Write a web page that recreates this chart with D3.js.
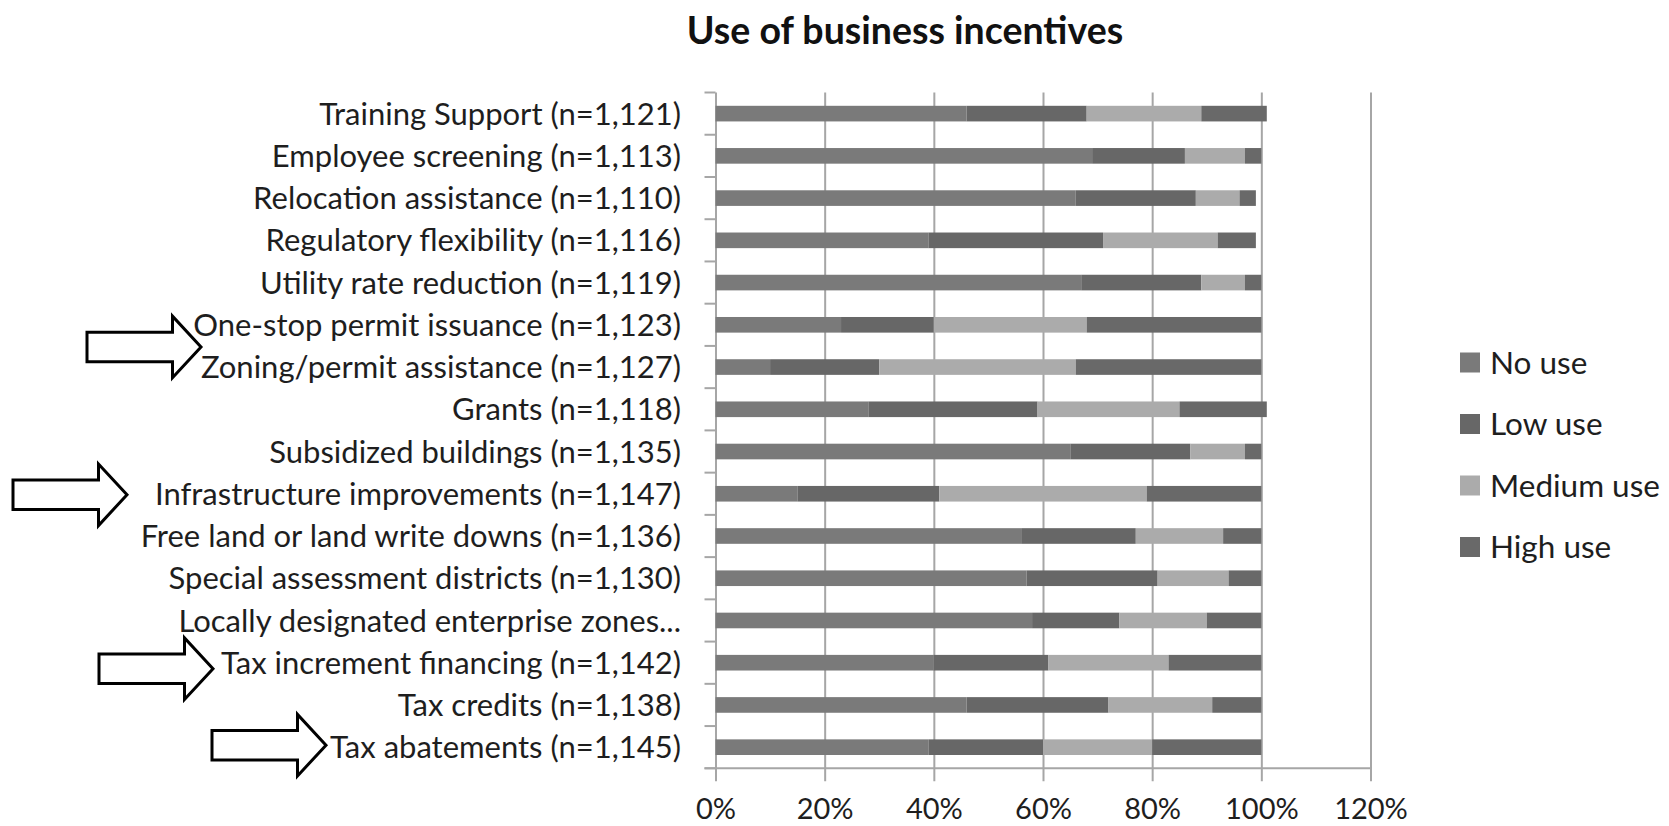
<!DOCTYPE html>
<html>
<head>
<meta charset="utf-8">
<script src="https://cdn.jsdelivr.net/npm/d3@7"></script>
<style>
  html, body { margin: 0; padding: 0; background: #fff; }
  svg { display: block; font-family: Lato, "Open Sans", sans-serif; }
</style>
</head>
<body>
<svg id="chart" width="1669" height="826"></svg>
<script>
// Incentive categories, top to bottom
const categories = [
  "Training Support (n=1,121)",
  "Employee screening (n=1,113)",
  "Relocation assistance (n=1,110)",
  "Regulatory flexibility (n=1,116)",
  "Utility rate reduction (n=1,119)",
  "One-stop permit issuance (n=1,123)",
  "Zoning/permit assistance (n=1,127)",
  "Grants (n=1,118)",
  "Subsidized buildings (n=1,135)",
  "Infrastructure improvements (n=1,147)",
  "Free land or land write downs (n=1,136)",
  "Special assessment districts (n=1,130)",
  "Locally designated enterprise zones...",
  "Tax increment financing (n=1,142)",
  "Tax credits (n=1,138)",
  "Tax abatements (n=1,145)"
];

// Share of respondents (%) per level of use
const noUse     = [46, 69, 66, 39, 67, 23, 10, 28, 65, 15, 56, 57, 58, 40, 46, 39];
const lowUse    = [22, 17, 22, 32, 22, 17, 20, 31, 22, 26, 21, 24, 16, 21, 26, 21];
const mediumUse = [21, 11,  8, 21,  8, 28, 36, 26, 10, 38, 16, 13, 16, 22, 19, 20];
const highUse   = [12,  3,  3,  7,  3, 32, 34, 16,  3, 21,  7,  6, 10, 17,  9, 20];

const seriesNames = ["No use", "Low use", "Medium use", "High use"];
const xTicks = [0, 0.2, 0.4, 0.6, 0.8, 1.0, 1.2];

const title = "Use of business incentives";

// Highlighted incentives (arrow annotations)
const highlights = [
  { rows: ["One-stop permit issuance (n=1,123)", "Zoning/permit assistance (n=1,127)"], tipX: 201, dy: 1 },
  { rows: ["Infrastructure improvements (n=1,147)"], tipX: 127, dy: 1 },
  { rows: ["Tax increment financing (n=1,142)"], tipX: 213, dy: 6 },
  { rows: ["Tax abatements (n=1,145)"], tipX: 326, dy: -2 }
];

const colors = ["#7a7a7a", "#676767", "#ababab", "#696969"];

const svg = d3.select("#chart");

const plot = { left: 715.5, right: 1370.5, top: 92.5, bottom: 768.3 };

const table = categories.map((c, i) => ({
  category: c,
  "No use": noUse[i] / 100,
  "Low use": lowUse[i] / 100,
  "Medium use": mediumUse[i] / 100,
  "High use": highUse[i] / 100
}));

const stacked = d3.stack().keys(seriesNames)(table);

const x = d3.scaleLinear().domain([0, 1.2]).range([plot.left, plot.right]);
const y = d3.scaleBand().domain(categories).range([plot.top, plot.bottom])
  .paddingInner(0.63).paddingOuter(0.315);
const yStep = d3.scaleBand().domain(categories).range([plot.top, plot.bottom]);
const color = d3.scaleOrdinal().domain(seriesNames).range(colors);

const gridColor = "#a6a6a6";
const textColor = "#1e1e1e";

// Vertical gridlines with ticks hanging below the baseline
const xAxis = d3.axisBottom(x).tickValues(xTicks)
  .tickSize(-(plot.bottom - plot.top))
  .tickFormat(d3.format(".0%"));
const gx = svg.append("g").attr("transform", `translate(0,${plot.bottom})`).call(xAxis);
gx.select(".domain").remove();
gx.selectAll(".tick line").attr("stroke", gridColor).attr("stroke-width", 2)
  .attr("y2", -(plot.bottom - plot.top)).attr("y1", 13);
gx.selectAll(".tick text")
  .attr("y", 30).attr("dy", "0.71em")
  .attr("fill", textColor)
  .style("font-size", "29px")
  .style("font-family", "Lato, sans-serif");

// Category axis ticks at band boundaries
const bounds = categories.map(c => yStep(c)).concat([plot.bottom]);
svg.append("g").selectAll("line").data(bounds).join("line")
  .attr("x1", plot.left - 11).attr("x2", plot.left)
  .attr("y1", d => d).attr("y2", d => d)
  .attr("stroke", gridColor).attr("stroke-width", 2);

// Baseline
svg.append("line")
  .attr("x1", plot.left - 11).attr("x2", plot.right + 1)
  .attr("y1", plot.bottom).attr("y2", plot.bottom)
  .attr("stroke", gridColor).attr("stroke-width", 2);

// Stacked bars
svg.append("g").selectAll("g").data(stacked).join("g")
  .attr("fill", d => color(d.key))
  .selectAll("rect").data(d => d).join("rect")
  .attr("x", d => x(d[0]))
  .attr("width", d => x(d[1]) - x(d[0]))
  .attr("y", d => y(d.data.category))
  .attr("height", y.bandwidth());

// Category labels
svg.append("g").selectAll("text").data(categories).join("text")
  .attr("x", 681)
  .attr("y", d => y(d) + y.bandwidth() / 2)
  .attr("dy", "0.36em")
  .attr("text-anchor", "end")
  .attr("fill", textColor)
  .style("font-size", "31px")
  .text(d => d);

// Title
svg.append("text")
  .attr("x", 905).attr("y", 44)
  .attr("text-anchor", "middle")
  .attr("fill", "#111")
  .style("font-size", "37.5px")
  .style("font-weight", "bold")
  .text(title);

// Legend
const legend = svg.append("g").selectAll("g").data(seriesNames).join("g")
  .attr("transform", (d, i) => `translate(1460,${362.5 + i * 61.5})`);
legend.append("rect")
  .attr("x", 0).attr("y", -10).attr("width", 20).attr("height", 20)
  .attr("fill", d => color(d));
legend.append("text")
  .attr("x", 30).attr("y", 0).attr("dy", "0.36em")
  .attr("fill", textColor)
  .style("font-size", "31.5px")
  .text(d => d);

// Outlined block arrows pointing at highlighted incentives
const arrowLen = 114, headLen = 28.5, shaftHalf = 14.8, headHalf = 30.8;
function arrowPath(tx, ty) {
  const x0 = tx - arrowLen, xb = tx - headLen;
  return `M${x0},${ty - shaftHalf}L${xb},${ty - shaftHalf}L${xb},${ty - headHalf}` +
         `L${tx},${ty}L${xb},${ty + headHalf}L${xb},${ty + shaftHalf}L${x0},${ty + shaftHalf}Z`;
}
svg.append("g").selectAll("path").data(highlights).join("path")
  .attr("d", h => {
    const ty = d3.mean(h.rows, r => y(r) + y.bandwidth() / 2) + h.dy;
    return arrowPath(h.tipX, ty);
  })
  .attr("fill", "#fff")
  .attr("stroke", "#000")
  .attr("stroke-width", 3)
  .attr("stroke-linejoin", "miter");
</script>
</body>
</html>
